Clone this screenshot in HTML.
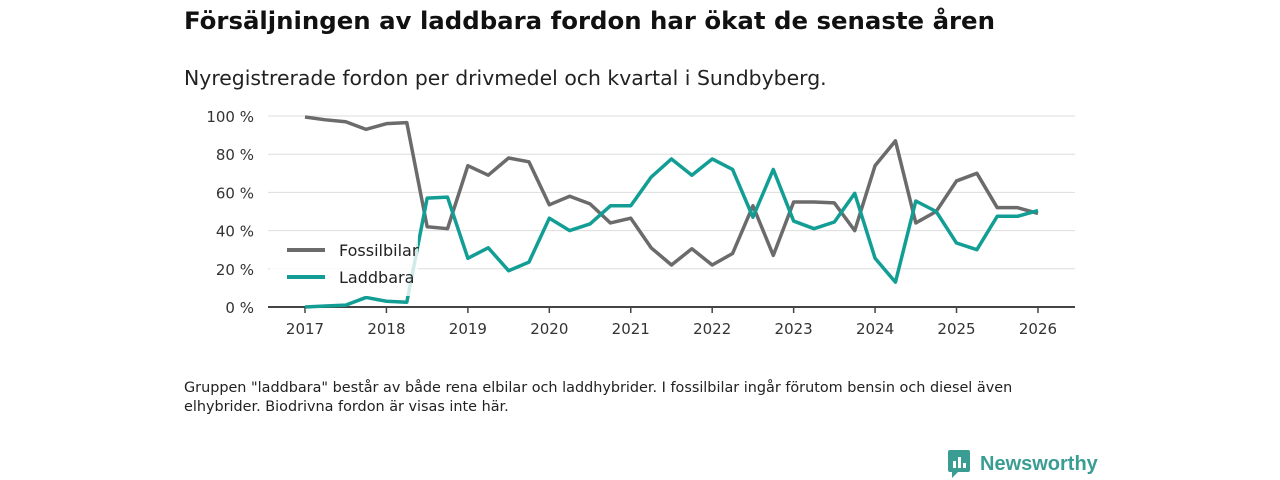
<!DOCTYPE html>
<html><head><meta charset="utf-8"><style>
body{margin:0;width:1280px;height:480px;background:#fff;font-family:"DejaVu Sans","Liberation Sans",sans-serif;overflow:hidden;position:relative}
.t{position:absolute;left:184px;top:6px;font-size:24.4px;font-weight:bold;color:#111}
.s{position:absolute;left:184px;top:66px;font-size:20.4px;color:#222}
.n{position:absolute;left:184px;top:379px;font-size:14.4px;color:#222;line-height:19px;width:880px}
.logo{position:absolute;left:948px;top:450px;display:flex;align-items:center;font-size:20px;font-weight:bold;color:#3a9d94;font-family:"Liberation Sans",sans-serif}
</style></head><body>
<div class="t">Försäljningen av laddbara fordon har ökat de senaste åren</div>
<div class="s">Nyregistrerade fordon per drivmedel och kvartal i Sundbyberg.</div>
<svg id="c" width="1280" height="480" style="position:absolute;left:0;top:0"></svg>
<div class="n">Gruppen "laddbara" består av både rena elbilar och laddhybrider. I fossilbilar ingår förutom bensin och diesel även elhybrider. Biodrivna fordon är visas inte här.</div>
<div class="logo"><svg width="24" height="28" style="margin-right:8px"><rect x="0" y="0" width="22" height="22" rx="2" fill="#3a9d94"/><polygon points="4,22 10,22 4,28" fill="#3a9d94"/><rect x="5" y="11" width="3" height="7" fill="#fff"/><rect x="10" y="7" width="3" height="11" fill="#fff"/><rect x="15" y="13" width="3" height="5" fill="#fff"/></svg>Newsworthy</div>
<script>
const years=[2017,2018,2019,2020,2021,2022,2023,2024,2025,2026];
const yTicks=[0,20,40,60,80,100];
const fossil=[99.5,98,97,93,96,96.5,42,41,74,69,78,76,53.5,58,54,44,46.5,31,22,30.5,22,28,53,27,55,55,54.5,40,74,87,44,50,66,70,52,52,49];
const laddbara=[0,0.5,1,5,3,2.5,57,57.5,25.5,31,19,23.5,46.5,40,43.5,53,53,68,77.5,69,77.5,72,47,72,45,41,44.5,59.5,25.5,13,55.5,50,33.5,30,47.5,47.5,50.5];
const NS='http://www.w3.org/2000/svg',svg=document.getElementById('c');
const x0=305,xYear=81.44;
const xs=i=>x0+i*xYear/4, xy=y=>x0+(y-2017)*xYear, ys=v=>307-v*1.91;
function el(t,a,p){const e=document.createElementNS(NS,t);for(const k in a)e.setAttribute(k,a[k]);(p||svg).appendChild(e);return e}
yTicks.forEach(v=>{
 if(v>0){const g=el('line',{x1:268,x2:1075,y1:ys(v),y2:ys(v),stroke:'#ddd','stroke-width':1});
 
 }
 const t=el('text',{x:254,y:ys(v)+6,'text-anchor':'end','font-size':15,fill:'#333'});t.textContent=v+' %';
 
 
});
const ax=el('line',{x1:268,x2:1075,y1:307,y2:307,stroke:'#444','stroke-width':2});


years.forEach(y=>{
 el('line',{x1:xy(y),x2:xy(y),y1:307,y2:313,stroke:'#444','stroke-width':1.5});
 const t=el('text',{x:xy(y),y:334,'text-anchor':'middle','font-size':15,fill:'#333'});t.textContent=y;
 
 
});
function line(d,c,n){const p=el('polyline',{points:d.map((v,i)=>xs(i)+','+ys(v)).join(' '),fill:'none',stroke:c,'stroke-width':3.5,'stroke-linejoin':'round'});
 
 }
line(fossil,'#6b6b6b','fossilbilar-line');
line(laddbara,'#129e94','laddbara-line');
const lb=el('rect',{x:270,y:236,width:148,height:60,fill:'#fff','fill-opacity':0.8});


[['Fossilbilar','#6b6b6b',250],['Laddbara','#129e94',277]].forEach(([n,c,y])=>{
 el('line',{x1:287,x2:325,y1:y,y2:y,stroke:c,'stroke-width':4});
 const t=el('text',{x:339,y:y+6,'font-size':16,fill:'#222'});t.textContent=n;
 
 
});
</script>
</body></html>
